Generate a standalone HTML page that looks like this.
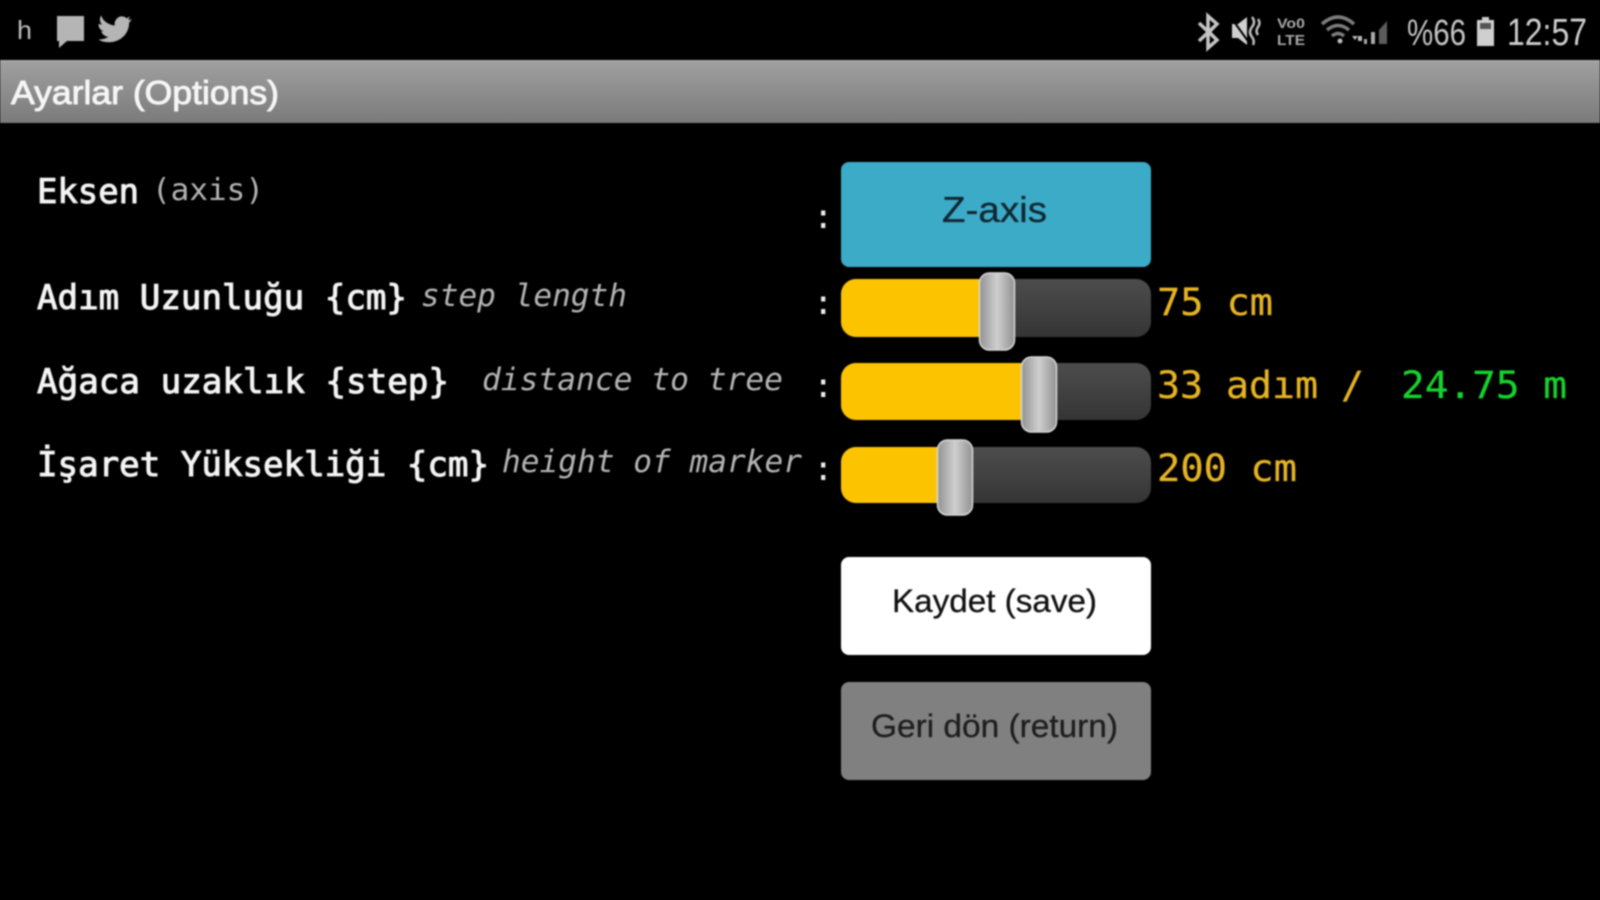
<!DOCTYPE html>
<html lang="tr"><head><meta charset="utf-8"><title>Ayarlar (Options)</title>
<style>
html,body{margin:0;padding:0;background:#000;width:1600px;height:900px;overflow:hidden}
svg{display:block;filter:blur(.8px)}
.m{font-family:"DejaVu Sans Mono","Liberation Mono",monospace}
.s{font-family:"Liberation Sans",sans-serif}
.l{font-size:34px;fill:#f4f4f4;stroke:#f4f4f4;stroke-width:1px}
.i{font-size:31px;fill:#b4b4b4;font-style:italic}
.v{font-size:37.5px;fill:#e6b422;stroke:#e6b422;stroke-width:.3px}
.c{font-size:34px;fill:#eee}
</style></head><body>
<svg width="1600" height="900" viewBox="0 0 1600 900" xmlns="http://www.w3.org/2000/svg">
<defs>
<linearGradient id="hd" x1="0" y1="0" x2="0" y2="1"><stop offset="0" stop-color="#a0a0a0"/><stop offset="1" stop-color="#7a7a7a"/></linearGradient>
<linearGradient id="tr" x1="0" y1="0" x2="0" y2="1"><stop offset="0" stop-color="#4c4c4c"/><stop offset=".5" stop-color="#414141"/><stop offset="1" stop-color="#343434"/></linearGradient>
<linearGradient id="kn" x1="0" y1="0" x2="1" y2="0"><stop offset="0" stop-color="#929292"/><stop offset=".5" stop-color="#cfcfcf"/><stop offset="1" stop-color="#929292"/></linearGradient>
</defs>
<rect width="1600" height="900" fill="#000"/>
<!-- status bar -->
<text class="s" x="17" y="39" font-size="26" fill="#bdbdbd" textLength="15" lengthAdjust="spacingAndGlyphs">h</text>
<path d="M57 16h27v25h-17l-8 7v-7h-2z" fill="#b5b5b5"/>
<path transform="translate(13,-1) scale(.9,.92)" d="M100 22c3 4 8 6 13 7-1-6 4-11 9-10 2 0 3 1 4 2l4-2-2 4 4-1-3 4c0 12-10 21-22 21-5 0-9-1-12-3 4 0 8-1 11-3-4 0-7-3-8-6h3c-4-1-6-4-6-8l4 1c-3-3-3-7-1-10z" fill="#b5b5b5"/>
<path d="M1208 16l9 8-8 8 8 8-9 8zM1199 23l18 17M1199 41l18-17" fill="none" stroke="#c4c4c4" stroke-width="3.5"/>
<path d="M1232 24h6l9-7v28l-9-7h-6z" fill="#cfcfcf"/><path d="M1230 16l20 28" stroke="#000" stroke-width="2"/><path d="M1252 17q4 5 0 10q-4 5 0 10q3 4 1 8M1258 19q3 4 0 8t0 8" fill="none" stroke="#bbb" stroke-width="2.5"/>
<text class="s" x="1277" y="28" font-size="14" font-weight="bold" fill="#a8a8a8" textLength="28" lengthAdjust="spacingAndGlyphs">Vo0</text>
<text class="s" x="1277" y="45" font-size="15" font-weight="bold" fill="#a8a8a8" textLength="28" lengthAdjust="spacingAndGlyphs">LTE</text>
<path d="M1322 24q16-14 32 0M1327 30q11-9 22 0M1332 36q6-5 12 0" fill="none" stroke="#7c7c7c" stroke-width="3.5"/><circle cx="1340" cy="41" r="2.5" fill="#bbb"/><path d="M1352 36l3 4 3-4zM1358 36h4v5h-4z" fill="#bbb"/>
<path d="M1364 39h3v5h-3zM1371 32h4v12h-4z" fill="#aaa"/><path d="M1379 30l8-9v23h-8z" fill="#5c5c5c"/>
<text class="s" x="1407" y="45" font-size="36" fill="#c4c4c4" textLength="59" lengthAdjust="spacingAndGlyphs">%66</text>
<path d="M1477 20h5v-3h7v3h5v26h-17z" fill="#cfcfcf"/><rect x="1480" y="23" width="11" height="6" fill="#555"/>
<text class="s" x="1507" y="45" font-size="38" fill="#cdcdcd" textLength="80" lengthAdjust="spacingAndGlyphs">12:57</text>
<!-- header -->
<rect x="0" y="60" width="1600" height="63" fill="url(#hd)"/>
<rect x="0" y="60" width="1600" height="2" fill="#a8a8a8"/>
<text class="s" x="11" y="104" font-size="33" fill="#f6f6f6" stroke="#f6f6f6" stroke-width=".9" textLength="268" lengthAdjust="spacingAndGlyphs">Ayarlar (Options)</text>
<!-- labels -->
<text class="m l" x="37" y="203" textLength="102" lengthAdjust="spacingAndGlyphs">Eksen</text>
<text class="m" x="152" y="200" font-size="30" fill="#b4b4b4" textLength="112" lengthAdjust="spacingAndGlyphs">(axis)</text>
<text class="m l" x="37" y="309" textLength="370" lengthAdjust="spacingAndGlyphs">Adım Uzunluğu {cm}</text>
<text class="m i" x="421" y="306" textLength="206" lengthAdjust="spacingAndGlyphs">step length</text>
<text class="m l" x="37" y="393" textLength="412" lengthAdjust="spacingAndGlyphs">Ağaca uzaklık {step}</text>
<text class="m i" x="482" y="390" textLength="301" lengthAdjust="spacingAndGlyphs">distance to tree</text>
<text class="m l" x="37" y="476" textLength="452" lengthAdjust="spacingAndGlyphs">İşaret Yüksekliği {cm}</text>
<text class="m i" x="502" y="472" textLength="300" lengthAdjust="spacingAndGlyphs">height of marker</text>
<!-- colons -->
<text class="m c" x="813" y="228">:</text>
<text class="m c" x="813" y="314">:</text>
<text class="m c" x="813" y="397">:</text>
<text class="m c" x="813" y="480">:</text>
<!-- z-axis -->
<rect x="841" y="162" width="310" height="105" rx="8" fill="#3cabc8"/>
<text class="s" x="942" y="222" font-size="36" fill="#102832" stroke="#102832" stroke-width=".3" textLength="105" lengthAdjust="spacingAndGlyphs">Z-axis</text>
<!-- sliders -->
<rect x="841" y="279" width="310" height="58" rx="15" fill="url(#tr)"/>
<path d="M988 279H856a15 15 0 0 0-15 15v28a15 15 0 0 0 15 15H988z" fill="#fcc400"/>
<rect x="979.500" y="273" width="35" height="77" rx="10" fill="url(#kn)" stroke="#d8d8d8" stroke-width="1.500"/>
<rect x="841" y="363" width="310" height="57" rx="15" fill="url(#tr)"/>
<path d="M1030 363H856a15 15 0 0 0-15 15v27a15 15 0 0 0 15 15H1030z" fill="#fcc400"/>
<rect x="1021.500" y="357" width="35" height="75" rx="10" fill="url(#kn)" stroke="#d8d8d8" stroke-width="1.500"/>
<rect x="841" y="447" width="310" height="56" rx="15" fill="url(#tr)"/>
<path d="M946 447H856a15 15 0 0 0-15 15v26a15 15 0 0 0 15 15H946z" fill="#fcc400"/>
<rect x="937.500" y="440" width="35" height="75" rx="10" fill="url(#kn)" stroke="#d8d8d8" stroke-width="1.500"/>
<!-- values -->
<text class="m v" x="1157" y="315" textLength="116" lengthAdjust="spacingAndGlyphs">75 cm</text>
<text class="m v" x="1157" y="398" textLength="207" lengthAdjust="spacingAndGlyphs">33 adım /</text>
<text class="m" x="1401" y="398" font-size="37.5" fill="#16d22e" stroke="#16d22e" stroke-width=".3" textLength="166" lengthAdjust="spacingAndGlyphs">24.75 m</text>
<text class="m v" x="1157" y="481" textLength="140" lengthAdjust="spacingAndGlyphs">200 cm</text>
<!-- buttons -->
<rect x="841" y="557" width="310" height="98" rx="8" fill="#fff"/>
<text class="s" x="892" y="612" font-size="32" fill="#111" stroke="#111" stroke-width=".3" textLength="205" lengthAdjust="spacingAndGlyphs">Kaydet (save)</text>
<rect x="841" y="682" width="310" height="98" rx="8" fill="#808080"/>
<text class="s" x="871" y="737" font-size="32" fill="#1e1e1e" stroke="#1e1e1e" stroke-width=".3" textLength="247" lengthAdjust="spacingAndGlyphs">Geri dön (return)</text>
</svg>
</body></html>
